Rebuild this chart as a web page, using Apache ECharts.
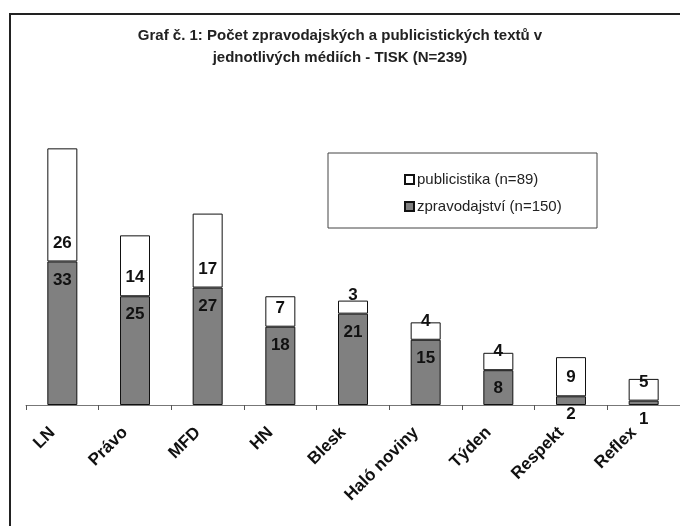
<!DOCTYPE html>
<html>
<head>
<meta charset="utf-8">
<script src="https://cdn.jsdelivr.net/npm/echarts@6/dist/echarts.min.js"></script>
<style>
    html, body { margin: 0; padding: 0; background: #fff; }
    #chart { width: 680px; height: 526px; }
</style>
</head>
<body>
<div id="chart"></div>
<script>
// media
const categories = ['LN', 'Právo', 'MFD', 'HN', 'Blesk', 'Haló noviny', 'Týden', 'Respekt', 'Reflex'];
// zpravodajství (gray, bottom)
const zpravodajstvi = [33, 25, 27, 18, 21, 15, 8, 2, 1];
// publicistika (white, top)
const publicistika = [26, 14, 17, 7, 3, 4, 4, 9, 5];

const titleText = 'Graf č. 1: Počet zpravodajských a publicistických textů v\njednotlivých médiích - TISK (N=239)';
const legendNames = ['publicistika (n=89)', 'zpravodajství (n=150)'];

const myCharts = echarts.init(document.getElementById('chart'));

const labelStyle = {
    show: true,
    color: '#111',
    fontFamily: 'Liberation Sans',
    fontWeight: 'bold',
    fontSize: 17,
    distance: 10
};

const option = {
    backgroundColor: '#fff',
    animation: false,
    textStyle: { fontFamily: 'Liberation Sans' },
    title: {
        text: titleText,
        left: 'center',
        top: 20,
        textStyle: {
            fontFamily: 'Liberation Sans',
            fontWeight: 'bold',
            fontSize: 15,
            lineHeight: 22,
            color: '#222'
        }
    },
    graphic: [
        {
            // chart frame (cut off at the right and bottom)
            type: 'rect',
            shape: { x: 10, y: 14, width: 700, height: 540 },
            style: { fill: 'none', stroke: '#222', lineWidth: 2 },
            silent: true
        },
        {
            // legend box
            type: 'rect',
            shape: { x: 328, y: 153, width: 269, height: 75 },
            style: { fill: '#fff', stroke: '#444', lineWidth: 1 },
            silent: true,
            z: 0
        }
    ],
    legend: {
        data: legendNames,
        orient: 'vertical',
        left: 399,
        top: 166,
        itemWidth: 9,
        itemHeight: 9,
        itemGap: 10,
        icon: 'rect',
        z: 10,
        textStyle: {
            fontFamily: 'Liberation Sans',
            fontSize: 15,
            lineHeight: 17,
            color: '#222',
            padding: [0, 0, 0, -2]
        }
    },
    grid: {
        left: 26,
        right: 0,
        top: 144,
        bottom: 121,
        containLabel: false
    },
    xAxis: {
        type: 'category',
        data: categories,
        axisLine: { lineStyle: { color: '#777', width: 1 } },
        axisTick: { show: true, length: 5, lineStyle: { color: '#555' } },
        axisLabel: {
            interval: 0,
            rotate: 45,
            margin: 15,
            padding: [0, 14, 0, 0],
            color: '#111',
            fontFamily: 'Liberation Sans',
            fontWeight: 'bold',
            fontSize: 17
        }
    },
    yAxis: {
        type: 'value',
        min: 0,
        max: 60,
        show: false,
        splitLine: { show: false }
    },
    series: [
        {
            name: legendNames[1],
            type: 'bar',
            stack: 'total',
            barWidth: 30,
            data: zpravodajstvi,
            itemStyle: { color: '#808080', borderColor: '#111', borderWidth: 1 },
            label: Object.assign({ position: 'insideTop' }, labelStyle)
        },
        {
            name: legendNames[0],
            type: 'bar',
            stack: 'total',
            barWidth: 30,
            data: publicistika,
            itemStyle: { color: '#fff', borderColor: '#111', borderWidth: 1 },
            label: Object.assign({ position: 'insideBottom' }, labelStyle)
        }
    ]
};

myCharts.setOption(option);
</script>
</body>
</html>
